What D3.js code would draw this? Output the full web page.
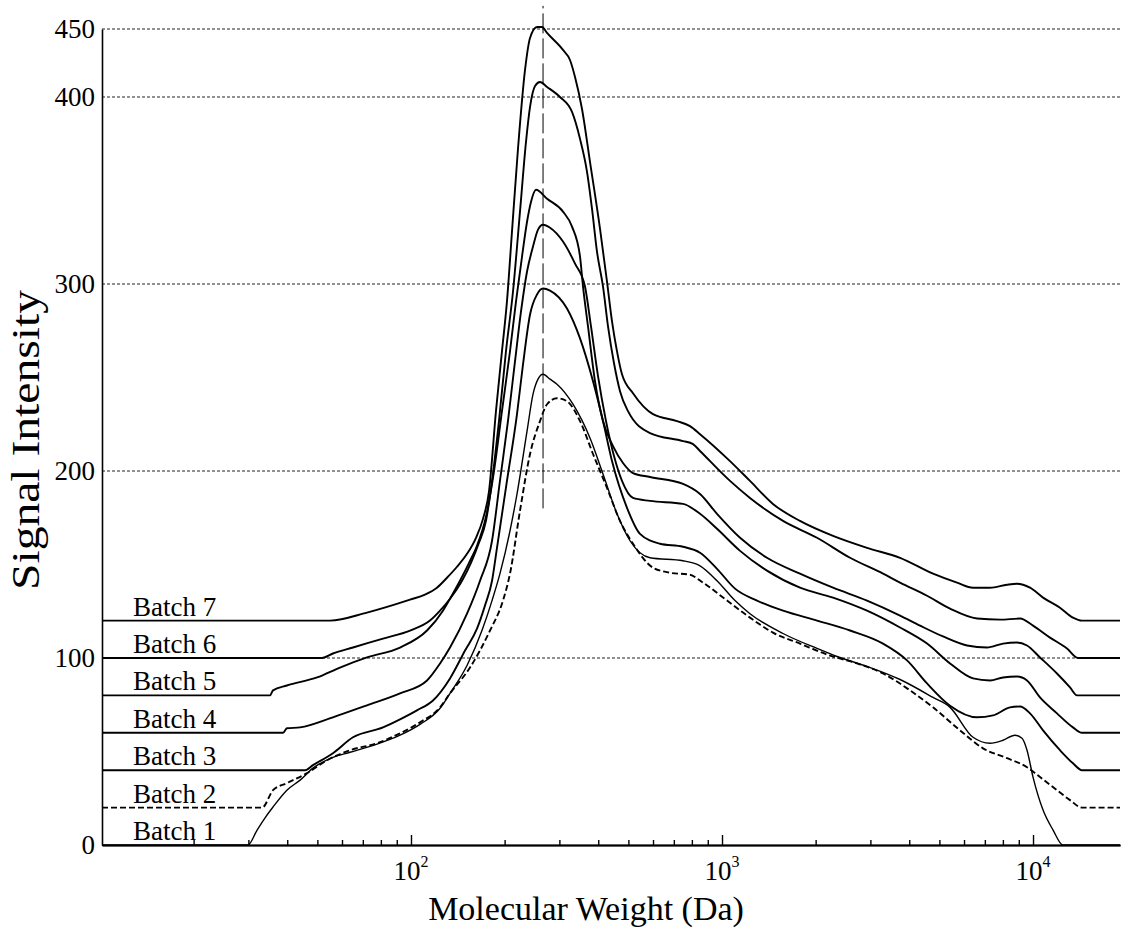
<!DOCTYPE html>
<html>
<head>
<meta charset="utf-8">
<script src="https://cdn.jsdelivr.net/npm/d3@7"></script>
<style>
  body { margin: 0; background: #fff; }
  svg { display: block; }
  text { font-family: "Liberation Serif", "Times New Roman", serif; fill: #000; }
</style>
</head>
<body>
<svg id="chart" width="1127" height="936"></svg>
<script>
// Molecular weight distribution profiles, [MW (Da), signal intensity]; each batch offset by 20.
const batch1 = [[10.15,0],[29.9,0],[32,8],[33.9,14.4],[36,20.3],[39.9,29.3],[44,34.7],[48.4,41.1],[56.1,46.9],[63.7,49.6],[77.7,53.9],[92.2,58.7],[106.9,64.5],[124,73.1],[133.5,81.1],[151.4,96],[169.1,114.7],[182.2,130.7],[193.2,145.1],[208.1,168],[219.2,187.7],[236.1,221.3],[246.8,241.1],[256.1,249.1],[265.8,251.7],[279.9,249.1],[294.7,246.4],[331.8,235.7],[376.3,217.6],[414.3,198.4],[459.6,177.1],[506.1,162.7],[586.7,153.6],[749.3,152],[849.8,149.3],[963.7,141.3],[1101,130.7],[1230,123.7],[1571,113.1],[2021,105.1],[2343,100.8],[2926,95.5],[3736,88.5],[4770,78.9],[5410,73.6],[6415,57.6],[7274,54.4],[8008,56],[8750,58.7],[9218,57.1],[9565,50.7],[10000,36.3],[10770,18.7],[11600,8],[12480,0],[19040,0]];

const batch2 = [[10.15,20],[33.2,20],[36,29.3],[39.9,33.1],[46.3,38.4],[53.7,45.3],[63.7,50.7],[77.7,54.4],[92.2,59.7],[106.9,65.6],[124,73.6],[133.5,81.1],[154.8,94.9],[179.5,114.7],[197.6,130.7],[208.1,145.1],[224.1,178.7],[241.4,209.1],[259.9,226.7],[273.8,235.7],[294.7,238.9],[317.4,237.3],[349.5,226.7],[384.8,209.1],[426.8,190.9],[469.9,173.3],[517.4,161.1],[599.9,148.3],[680.6,145.6],[789.1,144.5],[868.9,140.3],[1038,130.7],[1230,121.6],[1458,113.6],[1781,107.7],[2225,101.3],[2717,97.1],[3294,91.7],[4023,82.7],[4770,73.6],[5826,61.3],[6906,51.7],[8249,46.4],[9565,41.6],[10530,36.3],[11940,29.3],[13150,24],[14370,20],[19040,20]];

const batch3 = [[10.15,40],[45.6,40],[48.4,42.7],[56.1,49.1],[65.1,57.6],[81.3,62.9],[92.2,67.2],[104.5,72],[117.7,77.3],[133.5,89.1],[149.2,104],[163,115.7],[172.9,128],[182.2,141.3],[189,158.9],[203.5,194.7],[219.2,230.4],[229.2,257.1],[241.4,283.7],[254.2,294.4],[265.8,297.6],[279.9,296.5],[317.4,286.9],[349.5,270.9],[384.8,248],[414.3,226.7],[442.9,205.3],[494.9,180.3],[544.9,166.4],[631.8,161.1],[749.3,159.5],[849.8,156.3],[963.7,147.7],[1101,137.1],[1296,130.7],[1571,125.3],[2021,120],[2580,114.7],[3294,107.7],[3935,98.7],[4563,86.4],[5410,74.5],[6607,68.3],[7437,69.3],[8434,73.6],[9082,74.1],[9780,70.4],[10770,61.3],[12210,50.7],[13440,43.7],[14370,40],[19040,40]];

const batch4 = [[10.15,60],[38.8,60],[39.9,62.4],[44,62.9],[56.1,68.3],[72.2,74.7],[92.2,81.1],[112.6,88],[124,97.1],[133.5,105.6],[151.4,123.7],[166.7,141.3],[182.2,162.7],[193.2,194.7],[205,226.7],[216,258.7],[225.8,285.3],[236.1,306.7],[246.8,320],[256.1,329.1],[265.8,331.7],[279.9,330.1],[308.1,322.7],[336.8,310.9],[362.6,298.7],[379.1,277.3],[399.3,250.7],[423.7,226.7],[449.5,208],[476.9,194.7],[517.4,185.6],[586.7,184],[749.3,182.4],[849.8,177.1],[963.7,169.1],[1143,157.3],[1395,146.7],[1781,137.6],[2275,132.3],[2926,125.3],[3736,116.3],[4563,107.7],[5410,97.1],[6415,89.1],[7274,88],[8008,89.6],[8881,90.1],[9565,88],[10530,78.9],[11940,70.4],[13440,62.9],[14370,60],[19040,60]];

const batch5 = [[10.15,80],[35.2,80],[36,82.7],[39.9,85.3],[49.9,89.6],[59.1,94.9],[72.2,100.3],[92.2,105.6],[112.6,114.7],[126.7,125.3],[133.5,131.7],[143.7,141.3],[153.7,150.9],[163,160],[174.2,175.5],[184.9,200],[196.1,232],[208.1,264],[217.6,290.7],[227.5,314.7],[236.1,333.3],[243.2,344],[252.4,350.4],[273.8,345.6],[308.1,338.7],[329.4,330.7],[349.5,314.7],[357.3,298.7],[370.8,277.3],[390.5,248],[414.3,226.7],[446.2,213.3],[480.4,204.3],[517.4,198.9],[586.7,196.8],[749.3,193.1],[849.8,187.7],[963.7,177.1],[1143,164.3],[1395,153.6],[1781,145.1],[2275,137.6],[2926,130.7],[3736,122.7],[4334,117.3],[5136,111.5],[6136,106.7],[7114,105.6],[8008,107.7],[8881,108.3],[9565,106.7],[10530,100.3],[11940,91.7],[13150,84.3],[13850,80],[19040,80]];

const batch6 = [[10.15,100],[51.75,100],[56.1,102.4],[65.1,105.6],[81.3,110.4],[99.3,114.7],[115.1,120],[124,125.3],[133.5,131.7],[145.9,141.3],[155.9,150.9],[165.4,161.6],[174.2,173.3],[182.2,194.7],[191.8,226.7],[202,264],[212.8,296],[224.1,338.7],[234.3,376],[241.4,394.7],[250.5,408.1],[259.9,411],[273.8,407.4],[301.3,400],[329.4,392],[349.5,377.6],[368.1,360],[381.9,340.3],[396.3,317.3],[414.3,298.7],[430,277.3],[449.5,257.6],[469.9,242.7],[498.6,232],[586.7,220.3],[749.3,216],[806.9,214.4],[849.8,210.7],[1061,194.7],[1230,185.6],[1571,173.3],[2021,164.3],[2580,153.6],[3294,145.1],[3736,140.3],[4563,133.3],[5410,126.4],[6607,121.1],[7832,120.5],[9082,121.1],[10000,117.3],[11340,110.9],[12860,105.1],[13950,100],[19040,100]];

const batch7 = [[10.15,120],[54.9,120],[72.2,124.3],[99.3,131.2],[110.9,133.9],[121.2,137.6],[130.5,142.9],[140.6,148.8],[151.4,155.7],[161.8,164.3],[170.4,174.4],[178.2,189.3],[187.6,232],[196.1,264],[203.5,290.7],[211.2,328],[220.8,372.3],[232.6,419.9],[241.4,443.4],[254.2,451.5],[263.9,451.5],[273.8,447.1],[308.1,434.6],[324.5,427.2],[336.8,414.7],[354.7,393.6],[376.3,365.3],[405.2,329.6],[426.8,301.3],[442.9,280],[459.6,264],[476.9,251.7],[517.4,241.6],[599.9,230.4],[716.8,226.7],[789.1,224],[849.8,219.7],[1061,205.3],[1230,194.7],[1458,182.4],[1781,173.3],[2275,165.3],[2926,158.9],[3736,153.6],[4770,145.1],[5698,140.3],[6415,137.6],[7274,137.6],[8249,139.2],[8881,139.7],[9780,137.6],[10770,132.3],[12210,126.9],[13440,121.6],[14370,120],[19040,120]];

const batchNames = ["Batch 1","Batch 2","Batch 3","Batch 4","Batch 5","Batch 6","Batch 7"];
const batchBaselines = [0, 20, 40, 60, 80, 100, 120];
const batchSeries = [batch1, batch2, batch3, batch4, batch5, batch6, batch7];

const yTickValues = [0, 100, 200, 300, 400, 450];
const xMajorTicks = [100, 1000, 10000];
const xMinorTicks = [20,30,40,50,60,70,80,90,200,300,400,500,600,700,800,900,2000,3000,4000,5000,6000,7000,8000,9000];
const peakMW = 265.8;            // reference line through the main peak
const peakLineRange = [180, 467];

const width = 1127, height = 936;
const plot = { left: 102, right: 1120, bottom: 845 };

const svg = d3.select("#chart");
svg.append("rect").attr("width", width).attr("height", height).attr("fill", "#fff");

const x = d3.scaleLog().domain([10.15, 19040]).range([plot.left, plot.right]);
// the top band (400-450) of the intensity axis is compressed
const y = d3.scaleLinear().domain([0, 400, 450]).range([plot.bottom, 97, 29]);

// dotted horizontal grid
svg.append("g")
  .selectAll("line")
  .data(yTickValues.filter(v => v > 0))
  .join("line")
  .attr("x1", plot.left).attr("x2", plot.right)
  .attr("y1", d => y(d)).attr("y2", d => y(d))
  .attr("stroke", "#222").attr("stroke-width", 1)
  .attr("stroke-dasharray", "3,2");

// x axis: minor and major ticks pointing inward
const xMinor = svg.append("g").attr("transform", `translate(0,${plot.bottom})`)
  .call(d3.axisBottom(x).tickValues(xMinorTicks).tickSizeInner(-5).tickSizeOuter(0).tickFormat(""));
const xMajor = svg.append("g").attr("transform", `translate(0,${plot.bottom})`)
  .call(d3.axisBottom(x).tickValues(xMajorTicks).tickSizeInner(-10).tickSizeOuter(0).tickFormat(""));
[xMinor, xMajor].forEach(g => {
  g.selectAll("path, line").attr("stroke", "#000").attr("stroke-width", 1.4);
});
xMinor.select("path").attr("stroke-width", 1.8);

// power-of-ten labels
const xLabels = svg.append("g");
xMajorTicks.forEach(v => {
  const t = xLabels.append("text")
    .attr("x", x(v)).attr("y", 880)
    .attr("text-anchor", "middle")
    .attr("font-size", 27);
  t.append("tspan").text("10");
  t.append("tspan").attr("font-size", 16).attr("dy", -13).text(Math.round(Math.log10(v)));
});

// y axis
const yAxis = svg.append("g").attr("transform", `translate(${plot.left},0)`)
  .call(d3.axisLeft(y).tickValues(yTickValues).tickSize(0).tickPadding(7).tickFormat(d3.format("d")));
yAxis.select("path").attr("stroke", "#000").attr("stroke-width", 1.6);
yAxis.selectAll("text")
  .attr("font-size", 27)
  .attr("font-family", '"Liberation Serif", "Times New Roman", serif')
  .attr("fill", "#000");

// peak reference line
svg.append("line")
  .attr("x1", x(peakMW)).attr("x2", x(peakMW))
  .attr("y1", y(peakLineRange[0])).attr("y2", y(peakLineRange[1]))
  .attr("stroke", "#000").attr("stroke-width", 1)
  .attr("stroke-dasharray", "20,5");

// profiles
const line = d3.line()
  .x(d => x(d[0]))
  .y(d => y(d[1]))
  .curve(d3.curveMonotoneX);

svg.append("g")
  .selectAll("path")
  .data(batchSeries)
  .join("path")
  .attr("d", line)
  .attr("fill", "none")
  .attr("stroke", "#000")
  .attr("stroke-linejoin", "round")
  .attr("stroke-width", (d, i) => i === 0 ? 1.4 : 1.9)
  .attr("stroke-dasharray", (d, i) => i === 1 ? "6,3" : null);

// batch labels sit just above each baseline
svg.append("g")
  .selectAll("text")
  .data(batchNames)
  .join("text")
  .attr("x", plot.left + 31)
  .attr("y", (d, i) => y(batchBaselines[i]) - 5)
  .attr("font-size", 27)
  .text(d => d);

// axis titles
svg.append("text")
  .attr("x", 586).attr("y", 920)
  .attr("text-anchor", "middle")
  .attr("font-size", 34)
  .text("Molecular Weight (Da)");

svg.append("text")
  .attr("transform", "translate(39,440) rotate(-90)")
  .attr("text-anchor", "middle")
  .attr("font-size", 40)
  .attr("textLength", 300)
  .attr("lengthAdjust", "spacingAndGlyphs")
  .text("Signal Intensity");
</script>
</body>
</html>
